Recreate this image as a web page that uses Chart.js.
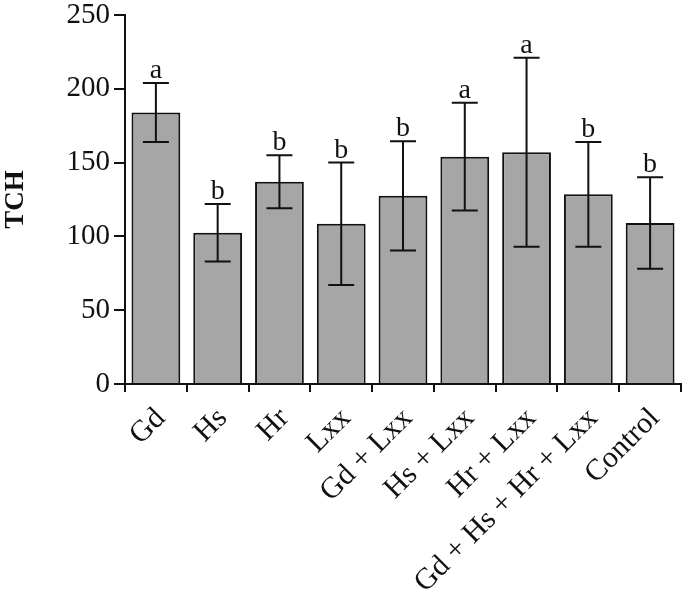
<!DOCTYPE html>
<html>
<head>
<meta charset="utf-8">
<script src="https://cdn.jsdelivr.net/npm/chart.js@4"></script>
<style>
  html, body { margin: 0; padding: 0; background: #ffffff; }
  #wrap { width: 685px; height: 603px; position: relative; }
</style>
</head>
<body>
<div id="wrap"><canvas id="myChart"></canvas></div>
<script>
// 群の名前
var groups = ['Gd', 'Hs', 'Hr', 'Lxx', 'Gd + Lxx', 'Hs + Lxx', 'Hr + Lxx', 'Gd + Hs + Hr + Lxx', 'Control'];
// 平均値
var tch_mean = [184, 102.5, 137, 108.5, 127.5, 154, 157, 128.5, 109];
// 誤差（±）
var tch_err = [20, 19.5, 18, 41.5, 37, 36.5, 64, 35.5, 31];
// 有意差の文字
var sig_letters = ['a', 'b', 'b', 'b', 'b', 'a', 'a', 'b', 'b'];
// y軸の目盛り
var y_ticks = [0, 50, 100, 150, 200, 250];

var serif = "'Liberation Serif', 'DejaVu Serif', serif";

//エラーバーと文字を描くプラグイン
var errorbar_plugin = {
    id: 'errorbar_plugin',
    afterDatasetsDraw: function(chart){
        var ctx = chart.ctx;
        var y_scale = chart.scales.y;
        var meta = chart.getDatasetMeta(0);
        ctx.save();
        ctx.strokeStyle = '#111111';
        ctx.lineWidth = 2;
        ctx.fillStyle = '#111111';
        ctx.font = "28px " + serif;
        ctx.textAlign = 'center';
        ctx.textBaseline = 'alphabetic';
        for(var i = 0; i < tch_mean.length; i++){
            var x = meta.data[i].x;
            var top = y_scale.getPixelForValue(tch_mean[i] + tch_err[i]);
            var bottom = y_scale.getPixelForValue(tch_mean[i] - tch_err[i]);
            var cap = 13;
            ctx.beginPath();
            ctx.moveTo(x, top); ctx.lineTo(x, bottom);
            ctx.moveTo(x - cap, top); ctx.lineTo(x + cap, top);
            ctx.moveTo(x - cap, bottom); ctx.lineTo(x + cap, bottom);
            ctx.stroke();
            //文字
            ctx.fillText(sig_letters[i], x, top - 5);
        }
        ctx.restore();
    }
};

function draw_chart(){
    var ctx = document.getElementById('myChart');
    var data = {
        labels: groups,
        datasets: [{
            data: tch_mean,
            backgroundColor: '#a6a6a6',
            borderColor: '#111111',
            borderWidth: 2,
            categoryPercentage: 1,
            barPercentage: 0.79
        }]
    };
    var options = {
        responsive: true,
        maintainAspectRatio: false,
        animation: false,
        layout: { padding: { left: 0, right: 4, top: 15, bottom: 0 } },
        plugins: {
            legend: { display: false },
            tooltip: { enabled: false }
        },
        scales: {
            x: {
                border: { display: true, color: '#111111', width: 2 },
                grid: { display: true, drawOnChartArea: false, drawTicks: true, tickLength: 8, color: '#111111', lineWidth: 2 },
                ticks: {
                    color: '#111111',
                    font: { family: serif, size: 30 },
                    minRotation: 45,
                    maxRotation: 45,
                    padding: 9,
                    labelOffset: 5,
                    autoSkip: false
                },
                afterFit: function(scale){
                    scale.height = 219;
                    scale.paddingLeft = 0;
                    scale.paddingRight = 0;
                }
            },
            y: {
                min: 0,
                max: 250,
                border: { display: true, color: '#111111', width: 2 },
                grid: { display: true, drawOnChartArea: false, drawTicks: true, tickLength: 11, color: '#111111', lineWidth: 2 },
                afterBuildTicks: function(scale){
                    scale.ticks = y_ticks.map(function(v){ return { value: v }; });
                },
                ticks: {
                    color: '#111111',
                    font: { family: serif, size: 29 },
                    padding: 4
                },
                title: {
                    display: true,
                    text: 'TCH',
                    color: '#111111',
                    font: { family: serif, size: 27, weight: 'bold' },
                    padding: { top: 0, bottom: 10 }
                },
                afterFit: function(scale){
                    scale.width = 125;
                    scale.paddingTop = 0;
                    scale.paddingBottom = 0;
                }
            }
        }
    };
    new Chart(ctx, {
        type: 'bar',
        data: data,
        options: options,
        plugins: [errorbar_plugin]
    });
}

//フォントを読み込んでから描画
Promise.all([
    document.fonts.load("28px 'Liberation Serif'"),
    document.fonts.load("bold 27px 'Liberation Serif'")
]).then(draw_chart, draw_chart);
</script>
</body>
</html>
